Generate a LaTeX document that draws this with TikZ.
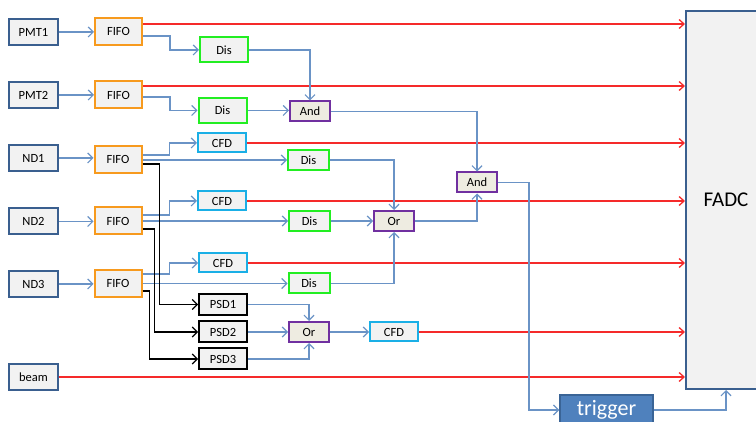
\documentclass[tikz,border=0pt]{standalone}
\usepackage{fontspec}
\setmainfont{Carlito}
\usetikzlibrary{arrows.meta}
\definecolor{srcb}{HTML}{3A5F8F}
\definecolor{fifob}{HTML}{F79A1E}
\definecolor{disb}{HTML}{22EE22}
\definecolor{cfdb}{HTML}{1AAFE6}
\definecolor{logb}{HTML}{7030A0}
\definecolor{boxf}{HTML}{F2F2F2}
\definecolor{logf}{HTML}{EEECE1}
\definecolor{wire}{HTML}{6A93C6}
\definecolor{sig}{HTML}{F52A2A}
\definecolor{trigf}{HTML}{4F81BD}
\definecolor{trigb}{HTML}{3A6496}
\begin{document}
\begin{tikzpicture}[x=1pt,y=-1pt,
  box/.style={draw, line width=2pt, fill=boxf, inner sep=0pt, font=\fontsize{12.5}{14}\selectfont},
  src/.style={box, draw=srcb, minimum width=49pt, minimum height=26pt},
  fifo/.style={box, draw=fifob, minimum width=47pt, minimum height=27pt},
  disbig/.style={box, draw=disb, minimum width=48pt, minimum height=25pt},
  dis/.style={box, draw=disb, minimum width=41pt, minimum height=20pt},
  cfd/.style={box, draw=cfdb, minimum width=48pt, minimum height=19pt},
  psd/.style={box, draw=black, minimum width=48pt, minimum height=21pt},
  logic/.style={box, draw=logb, fill=logf, minimum width=40pt, minimum height=20pt},
  bl/.style={draw=wire, line width=1.2pt, -{Straight Barb[length=5pt,width=10pt]}},
  rd/.style={draw=sig, line width=1.3pt, -{Straight Barb[length=5pt,width=9pt]}},
  bk/.style={draw=black, line width=1.1pt, -{Straight Barb[length=5pt,width=10pt]}}
]
\useasboundingbox (0,0) rectangle (756,422);
% FADC and trigger
\node[draw=srcb, line width=2pt, fill=boxf, minimum width=80pt, minimum height=378pt, inner sep=0pt,
  font=\fontsize{21}{24}\selectfont] (fadc) at (726,200) {FADC};
\node[draw=trigb, line width=1.5pt, fill=trigf, text=white, minimum width=93pt, minimum height=30pt,
  inner sep=0pt, font=\fontsize{22}{24}\selectfont] (trig) at (606.5,410) {trigger};
% sources
\node[src] (s1) at (33.5,32) {PMT1};
\node[src] (s2) at (33.5,95) {PMT2};
\node[src] (s3) at (33.5,158) {ND1};
\node[src] (s4) at (33.5,221.5) {ND2};
\node[src] (s5) at (33.5,284) {ND3};
\node[src] (beam) at (33.5,377) {beam};
% FIFOs
\node[fifo] (f1) at (118.5,31.5) {FIFO};
\node[fifo] (f2) at (118.5,95) {FIFO};
\node[fifo] (f3) at (118,159.5) {FIFO};
\node[fifo] (f4) at (118,221) {FIFO};
\node[fifo] (f5) at (118,283.5) {FIFO};
% discriminators
\node[disbig] (d1) at (224,50) {Dis};
\node[disbig] (d2) at (222.5,110.5) {Dis};
\node[dis] (d3) at (308.5,160) {Dis};
\node[dis] (d4) at (309.5,221) {Dis};
\node[dis] (d5) at (309,283.5) {Dis};
% CFDs
\node[cfd] (c1) at (222,143) {CFD};
\node[cfd] (c2) at (222,201) {CFD};
\node[cfd] (c3) at (223,263) {CFD};
\node[cfd] (c4) at (394,332) {CFD};
% PSDs
\node[psd] (p1) at (223,304.5) {PSD1};
\node[psd] (p2) at (223,332) {PSD2};
\node[psd] (p3) at (223,359) {PSD3};
% logic
\node[logic] (a1) at (310,111.5) {And};
\node[logic] (a2) at (477,182.5) {And};
\node[logic] (o1) at (394,221) {Or};
\node[logic] (o2) at (309,332) {Or};
% source -> FIFO
\foreach \s/\f in {s1/f1,s2/f2,s3/f3,s4/f4,s5/f5}
  \draw[bl] (\s.east) -- (\s.east -| \f.west);
% red lines to FADC
\draw[rd] ([yshift=7.5pt]f1.east) coordinate (r1) -- (r1 -| fadc.west);
\draw[rd] ([yshift=9pt]f2.east) coordinate (r2) -- (r2 -| fadc.west);
\foreach \m in {c1,c2,c3,c4,beam}
  \draw[rd] (\m.east) -- (\m.east -| fadc.west);
% PMT branch
\draw[bl] ([yshift=-4.5pt]f1.east) -- ++(27,0) |- (d1.west);
\draw[bl] ([yshift=-2pt]f2.east) -- ++(27,0) |- (d2.west);
\draw[bl] (d1.east) -| (a1.north);
\draw[bl] (d2.east) -- (d2.east -| a1.west);
% ND branches
\draw[bl] ([yshift=4.5pt]f3.east) -- ++(27,0) |- (c1.west);
\draw[bl] ([yshift=6pt]f4.east) -- ++(27,0) |- (c2.west);
\draw[bl] ([yshift=9.5pt]f5.east) -- ++(27,0) |- (c3.west);
\draw[bl] (f3.east |- d3.west) -- (d3.west);
\draw[bl] (f4.east |- d4.west) -- (d4.west);
\draw[bl] (f5.east |- d5.west) -- (d5.west);
\draw[bk] ([yshift=-4.5pt]f3.east) -- ++(17,0) |- (p1.west);
\draw[bk] ([yshift=-8pt]f4.east) -- ++(12,0) |- (p2.west);
\draw[bk] ([yshift=-7.5pt]f5.east) -- ++(7,0) |- (p3.west);
% Or / And logic
\draw[bl] (d3.east) -| (o1.north);
\draw[bl] (d4.east) -- (o1.west);
\draw[bl] (d5.east) -| (o1.south);
\draw[bl] (a1.east) -| (a2.north);
\draw[bl] (o1.east) -| (a2.south);
\draw[bl] (p1.east) -| (o2.north);
\draw[bl] (p2.east) -- (o2.west);
\draw[bl] (p3.east) -| (o2.south);
\draw[bl] (o2.east) -- (c4.west);
% trigger path
\draw[bl] (a2.east) -- ++(31,0) |- (trig.west);
\draw[bl] (trig.east) -| (fadc.south);
\end{tikzpicture}
\end{document}
